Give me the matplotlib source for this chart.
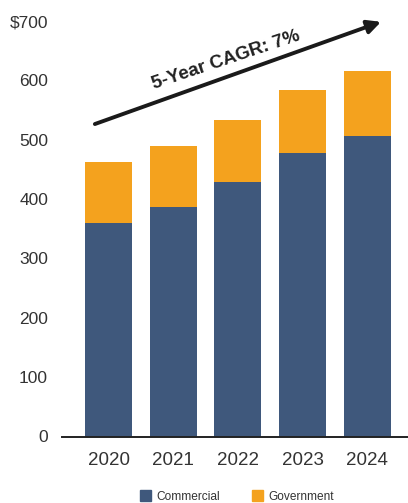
import matplotlib
matplotlib.use("Agg")
import matplotlib.pyplot as plt
from matplotlib.patches import Patch

years = ["2020", "2021", "2022", "2023", "2024"]
commercial = [360, 386, 428, 477, 507]
government = [103, 104, 106, 106, 108]
yticks = [0, 100, 200, 300, 400, 500, 600, 700]
ytick_labels = ["0", "100", "200", "300", "400", "500", "600", "$700"]
annotation = "5-Year CAGR: 7%"

navy = "#3F587C"
orange = "#F4A21E"
text_col = "#333333"

plt.rcParams["font.family"] = ["Liberation Sans", "DejaVu Sans"]

fig = plt.figure(figsize=(4.08, 5.03), dpi=100)
W, H = 408, 503
ax = fig.add_axes([62 / W, (H - 436.5) / H, 346 / W, 415.5 / H])

x = list(range(len(years)))
ax.bar(x, commercial, width=0.726, color=navy, label="Commercial")
ax.bar(x, government, width=0.726, bottom=commercial, color=orange, label="Government")

ax.set_xlim(-0.72, 4.63)
ax.set_ylim(0, 700)
ax.set_yticks(yticks)
ax.set_yticklabels(ytick_labels)
ax.set_xticks(x)
ax.set_xticklabels(years)
ax.tick_params(axis="both", length=0, colors=text_col, labelsize=12.5)
ax.tick_params(axis="y", pad=10)
ax.tick_params(axis="x", pad=11)
for lbl in ax.get_xticklabels():
    lbl.set_fontsize(13.5)
for s in ["top", "right", "left"]:
    ax.spines[s].set_visible(False)
ax.spines["bottom"].set_color("#222222")
ax.spines["bottom"].set_linewidth(1.4)

ax.annotate("", xy=(0.922, 0.998), xytext=(0.095, 0.752), xycoords="axes fraction",
            textcoords="axes fraction",
            arrowprops=dict(arrowstyle="-|>,head_length=0.8,head_width=0.4",
                            color="#1a1a1a", lw=2.8, shrinkA=0, shrinkB=0),
            annotation_clip=False)
ax.text(0.475, 0.905, annotation, transform=ax.transAxes, rotation=18.5,
        rotation_mode="anchor", ha="center", va="center", fontsize=13.5,
        fontweight="bold", color="#222222")

handles = [Patch(color=navy, label="Commercial"), Patch(color=orange, label="Government")]
fig.legend(handles=handles, loc="center", bbox_to_anchor=(237 / W, 6.5 / H), ncol=2,
           frameon=False, fontsize=8.6, handlelength=0.95, handleheight=0.95,
           handletextpad=0.5, columnspacing=2.6, labelcolor=text_col)

fig.savefig("out.png", dpi=100)
